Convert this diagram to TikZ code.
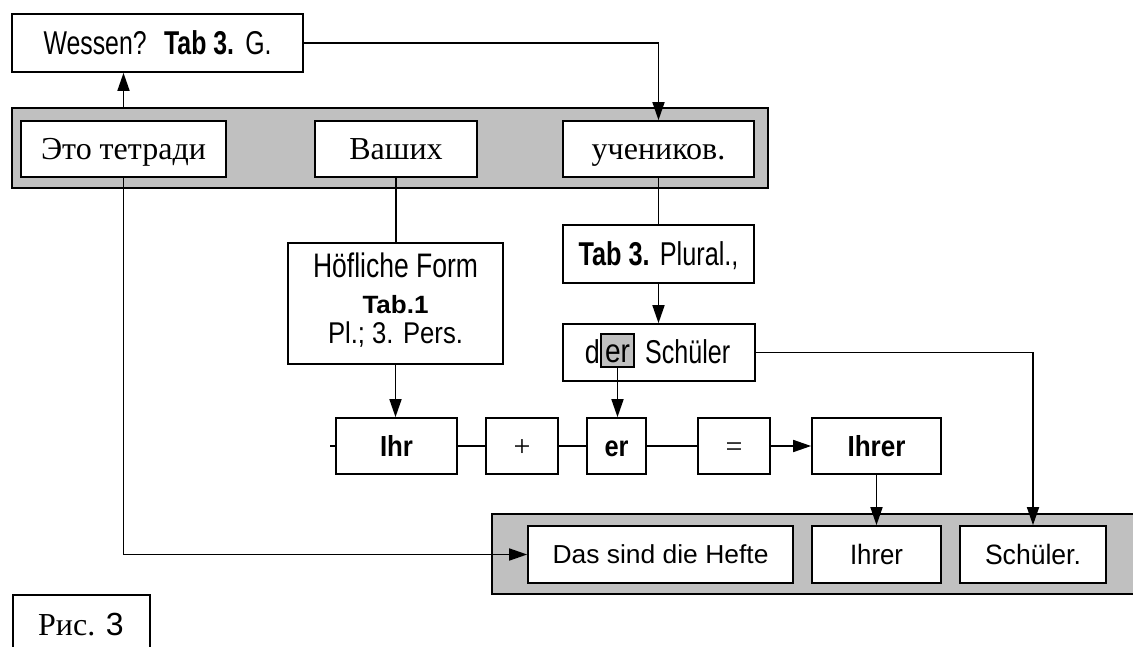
\documentclass[tikz,border=0pt]{standalone}
\usepackage{fontspec}
\setmainfont{Liberation Serif}
\setsansfont{Liberation Sans}
\usepackage{graphicx}
\usetikzlibrary{arrows.meta,calc}
\definecolor{bandgray}{HTML}{C0C0C0}
\newcommand{\rz}[2]{\resizebox{#1pt}{\height}{#2}}
\tikzset{
  box/.style={draw, fill=white, line width=1.7pt, inner sep=0pt},
  band/.style={draw, fill=bandgray, line width=2.6pt, inner sep=0pt},
  conn/.style={line width=1.7pt},
  arr/.style={conn, -{Triangle[length=18pt,width=12pt]}},
  ru/.style={font=\rmfamily\fontsize{32}{32}\selectfont, text height=21pt, text depth=0pt},
  de/.style={font=\sffamily\fontsize{#1}{#1}\selectfont, text height=\dimexpr #1pt*716/1000\relax, text depth=0pt},
  sym/.style={font=\rmfamily\fontsize{30}{30}\selectfont, text height=21pt, text depth=0pt},
  txt/.style={inner sep=0pt, anchor=base},
}
\begin{document}
\begin{tikzpicture}[x=1pt,y=-1pt]
\clip (0,0) rectangle (1133,646);
% top
\node[box, de=33, minimum width=291pt, minimum height=58pt] (wessen) at (157.5,43)
  {\rz{228}{Wessen?\hspace{0.7em}\textbf{Tab 3.}\hspace{0.45em}G.}};
\node[band, minimum width=756pt, minimum height=80pt] (band1) at (390,148) {};
\node[box, ru, minimum width=205pt, minimum height=56pt] (eto) at (123.5,149) {Это тетради};
\node[box, ru, minimum width=162pt, minimum height=56pt] (vash) at (396,149) {Ваших};
\node[box, ru, minimum width=191pt, minimum height=56pt] (uch) at (658.5,149) {учеников.};
% middle
\node[box, minimum width=215pt, minimum height=121pt] (hof) at (395.5,303.5) {};
\node[txt, font=\sffamily\fontsize{34}{34}\selectfont] (hof1) at (395.5,277) {\rz{165}{Höfliche Form}};
\node[txt, font=\sffamily\fontsize{25}{25}\selectfont] (hof2) at (395.5,313) {\rz{66}{\textbf{Tab.1}}};
\node[txt, font=\sffamily\fontsize{30}{30}\selectfont] (hof3) at (395.5,343) {\rz{135}{Pl.; 3. Pers.}};
\node[box, de=33, minimum width=191pt, minimum height=58pt] (tab3) at (658.5,254)
  {\rz{160}{\textbf{Tab 3.}\hspace{0.4em}Plural.,}};
\node[box, minimum width=192pt, minimum height=57pt] (der) at (659,352.5) {};
\node[box, fill=bandgray, de=33, minimum width=33pt, minimum height=33pt] (ergray) at (617.5,350.5) {\rz{25}{er}};
\node[inner sep=0pt, anchor=base east, font=\sffamily\fontsize{33}{33}\selectfont] (dd) at (600,363) {\rz{15}{d}};
\node[inner sep=0pt, anchor=base west, font=\sffamily\fontsize{33}{33}\selectfont] (sch) at (645,363) {\rz{85}{Schüler}};
% formula row
\node[box, de=29, minimum width=121pt, minimum height=56pt] (ihr) at (396.5,446) {\rz{33}{\textbf{Ihr}}};
\node[box, sym, minimum width=72pt, minimum height=56pt] (plus) at (522,446) {+};
\node[box, de=29, minimum width=59pt, minimum height=56pt] (er) at (616.5,446) {\rz{24}{\textbf{er}}};
\node[box, sym, minimum width=72pt, minimum height=56pt] (eq) at (734,446) {=};
\node[box, de=29, minimum width=129pt, minimum height=56pt] (ihrer) at (876.5,446) {\rz{58}{\textbf{Ihrer}}};
\coordinate (stub) at (330,446);
% bottom
\node[band, minimum width=660pt, minimum height=80pt] (band2) at (822,554) {};
\node[box, de=26, minimum width=265pt, minimum height=57pt] (das) at (660.5,554.5) {\rz{216}{Das sind die Hefte}};
\node[box, de=28, minimum width=129pt, minimum height=57pt] (ihrer2) at (876.5,554.5) {\rz{53}{Ihrer}};
\node[box, de=28, minimum width=146pt, minimum height=57pt] (schueler) at (1033,554.5) {\rz{96}{Schüler.}};
% figure label
\node[draw, line width=1.7pt, minimum width=137pt, minimum height=70pt, anchor=north west] (ris) at (12,594) {};
\node[txt, font=\rmfamily\fontsize{32}{32}\selectfont] (ristext) at (81,635) {Рис. {\sffamily 3}};
% connectors
\draw[arr] (eto.center |- band1.north) -- (eto.center |- wessen.south);
\draw[arr] (wessen.east) -| (uch.north);
\draw[arr] (eto.south) |- (das.west);
\draw[conn] (vash.south) -- (vash.south |- hof.north);
\draw[conn] (uch.south) -- (uch.south |- tab3.north);
\draw[arr] (tab3.south) -- (tab3.south |- der.north);
\draw[arr] (ergray.south) -- (ergray.south |- er.north);
\draw[arr] (der.east) -| (schueler.north);
\draw[arr] (hof.south) -- (hof.south |- ihr.north);
\draw[conn] (stub) -- (ihr.west);
\draw[conn] (ihr.east) -- (plus.west);
\draw[conn] (plus.east) -- (er.west);
\draw[conn] (er.east) -- (eq.west);
\draw[arr] (eq.east) -- (ihrer.west);
\draw[arr] (ihrer.south) -- (ihrer2.north);
\end{tikzpicture}
\end{document}
